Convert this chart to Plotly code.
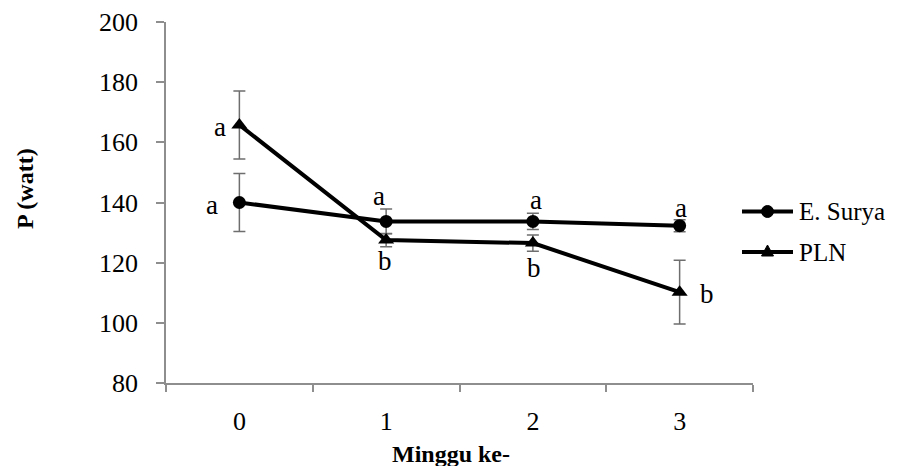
import plotly.graph_objects as go

# ---- data ----
weeks = ["0", "1", "2", "3"]
surya = [140.0, 133.7, 133.7, 132.3]
surya_err = [9.6, 4.1, 2.7, 2.0]
pln = [165.8, 127.5, 126.5, 110.2]
pln_err = [11.3, 2.2, 2.7, 10.6]
surya_letters = ["a", "a", "a", "a"]
pln_letters = ["a", "b", "b", "b"]
series_names = ["E. Surya", "PLN"]
y_ticks = [80, 100, 120, 140, 160, 180, 200]

# ---- layout helpers (pixel geometry, in window pixels) ----
OFF = 8                      # default page body margin
W, H = 900 - OFF, 466 - OFF  # figure size so it fills the window
PL, PR, PT, PB = 166, 753, 22, 383   # plot area edges in window pixels
L, T = PL - OFF, PT - OFF
R = W - (PR - OFF)
B = H - (PB - OFF)
PW, PH = PR - PL, PB - PT
FONT = "Liberation Serif"

def px_x(x):
    return (x - PL) / PW

def px_y(y):
    return (PB - y) / PH

fig = go.Figure()

err_style = dict(type="data", visible=True, color="#6e6e6e", thickness=1.5, width=6)

fig.add_trace(go.Scatter(
    x=weeks, y=surya, mode="lines+markers", name=series_names[0],
    line=dict(color="black", width=4),
    marker=dict(symbol="circle", size=13, color="black"),
    error_y=dict(array=surya_err, **err_style),
    showlegend=False, cliponaxis=False,
))
fig.add_trace(go.Scatter(
    x=weeks, y=pln, mode="lines+markers", name=series_names[1],
    line=dict(color="black", width=4),
    marker=dict(symbol="triangle-up", size=14, color="black"),
    error_y=dict(array=pln_err, **err_style),
    showlegend=False, cliponaxis=False,
))

annotations = []
# significance letters (offsets in pixels)
surya_off = [(-27, -2), (-7, 25), (3, 21), (1, 18)]
pln_off = [(-19, -2), (-1, -21), (1, -25), (27, -2)]
for xs, ys, letters, offs in [(weeks, surya, surya_letters, surya_off),
                              (weeks, pln, pln_letters, pln_off)]:
    for xv, yv, t, (dx, dy) in zip(xs, ys, letters, offs):
        annotations.append(dict(
            x=xv, y=yv, xref="x", yref="y", text=t, showarrow=False,
            xshift=dx, yshift=dy, xanchor="center", yanchor="middle",
            font=dict(family=FONT, size=27, color="black"),
        ))

# axis titles
annotations.append(dict(
    x=px_x(25), y=px_y(189), xref="paper", yref="paper", text="<b>P (watt)</b>",
    textangle=-90, showarrow=False, xanchor="center", yanchor="middle",
    font=dict(family=FONT, size=24, color="black"),
))
annotations.append(dict(
    x=px_x(451), y=px_y(454), xref="paper", yref="paper", text="<b>Minggu ke-</b>",
    showarrow=False, xanchor="center", yanchor="middle",
    font=dict(family=FONT, size=24, color="black"),
))

# manual legend
shapes = []
leg_rows = [211.5, 252]
for i, (name, ypix) in enumerate(zip(series_names, leg_rows)):
    yp = px_y(ypix)
    shapes.append(dict(type="line", xref="paper", yref="paper",
                       x0=px_x(742), x1=px_x(793), y0=yp, y1=yp,
                       line=dict(color="black", width=4)))
    if i == 0:
        shapes.append(dict(type="circle", xref="paper", yref="paper",
                           xsizemode="pixel", ysizemode="pixel",
                           xanchor=px_x(767.5), yanchor=yp,
                           x0=-6, x1=6, y0=-6, y1=6,
                           fillcolor="black", line=dict(color="black", width=1)))
    else:
        shapes.append(dict(type="path", xref="paper", yref="paper",
                           xsizemode="pixel", ysizemode="pixel",
                           xanchor=px_x(767.5), yanchor=yp,
                           path="M -6,-4 L 6,-4 L 0,7 Z",
                           fillcolor="black", line=dict(color="black", width=1)))
    annotations.append(dict(
        x=px_x(797), y=yp, xref="paper", yref="paper", text=name,
        showarrow=False, xanchor="left", yanchor="middle",
        font=dict(family=FONT, size=25, color="black"),
    ))

fig.update_layout(
    width=W, height=H,
    margin=dict(l=L, r=R, t=T, b=B, pad=0, autoexpand=False),
    paper_bgcolor="white", plot_bgcolor="white",
    font=dict(family=FONT, size=25, color="black"),
    showlegend=False,
    annotations=annotations,
    shapes=shapes,
    xaxis=dict(
        type="category", range=[-0.5, 3.5], tickson="boundaries",
        showline=True, linecolor="#8e8e8e", linewidth=1.5,
        ticks="outside", ticklen=7, tickcolor="#8e8e8e", tickwidth=1.5,
        showgrid=False, zeroline=False, ticklabelstandoff=14, automargin=False,
        tickfont=dict(family=FONT, size=26, color="black"),
    ),
    yaxis=dict(
        range=[80, 200], tickvals=y_ticks,
        showline=True, linecolor="#8e8e8e", linewidth=1.5,
        ticks="outside", ticklen=8, tickcolor="#8e8e8e", tickwidth=1.5,
        showgrid=False, zeroline=False, ticklabelstandoff=13, automargin=False,
        tickfont=dict(family=FONT, size=26, color="black"),
    ),
)

fig.write_html("out.html")
